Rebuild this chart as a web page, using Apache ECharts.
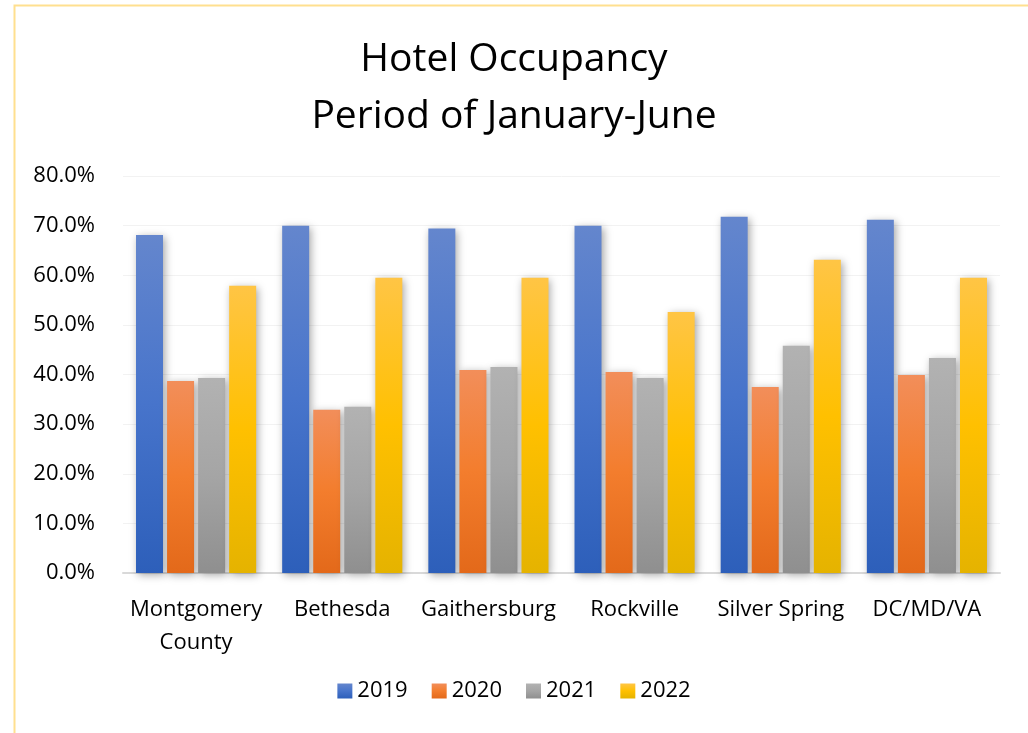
<!DOCTYPE html>
<html>
<head>
<meta charset="utf-8">
<title>Hotel Occupancy</title>
<script src="https://cdn.jsdelivr.net/npm/echarts@6/dist/echarts.min.js"></script>
<style>
  html, body { margin: 0; padding: 0; background: #fff; }
  #main { width: 1028px; height: 733px; }
</style>
</head>
<body>
<div id="main"></div>
<script>
// categories and values (percent)
var places = ['Montgomery\nCounty', 'Bethesda', 'Gaithersburg', 'Rockville', 'Silver Spring', 'DC/MD/VA'];
var years = ['2019', '2020', '2021', '2022'];
var occ2019 = [68.1, 70.0, 69.4, 70.0, 71.8, 71.2];
var occ2020 = [38.7, 32.9, 40.9, 40.5, 37.5, 39.9];
var occ2021 = [39.3, 33.5, 41.5, 39.3, 45.8, 43.3];
var occ2022 = [57.9, 59.5, 59.5, 52.6, 63.1, 59.5];

var font = "'Open Sans', 'Noto Sans', sans-serif";

function grad(top, mid, bottom) {
  return new echarts.graphic.LinearGradient(0, 0, 0, 1, [
    { offset: 0, color: top },
    { offset: 0.5, color: mid },
    { offset: 1, color: bottom }
  ]);
}

var fills = [
  grad('#6486cd', '#4774cb', '#2d5fba'),
  grad('#f28e5a', '#f37d2d', '#e3691a'),
  grad('#b2b2b2', '#a5a5a5', '#8f8f8f'),
  grad('#ffc545', '#ffc000', '#e5b300')
];

var values = [occ2019, occ2020, occ2021, occ2022];

var series = years.map(function (y, i) {
  return {
    name: y,
    type: 'bar',
    data: values[i],
    barWidth: 27,
    barGap: '15%',
    itemStyle: {
      color: fills[i],
      shadowBlur: 8,
      shadowColor: 'rgba(0,0,0,0.35)',
      shadowOffsetX: 2,
      shadowOffsetY: 2
    }
  };
});

var chart = echarts.init(document.getElementById('main'));
chart.setOption({
  animation: false,
  backgroundColor: '#fff',
  title: {
    text: 'Hotel Occupancy\nPeriod of January-June',
    left: 'center',
    top: 26,
    textStyle: {
      fontFamily: font,
      fontWeight: 'normal',
      fontSize: 39,
      lineHeight: 57,
      color: '#000'
    }
  },
  legend: {
    data: years,
    bottom: 26,
    left: 'center',
    itemWidth: 15,
    itemHeight: 15,
    itemGap: 24,
    icon: 'rect',
    textStyle: { fontFamily: font, fontSize: 22, color: '#000' }
  },
  grid: { left: 123, right: 28, top: 176, bottom: 160, containLabel: false },
  xAxis: {
    type: 'category',
    data: places,
    axisLine: { lineStyle: { color: '#d9d9d9', width: 2 } },
    axisTick: { show: false },
    axisLabel: {
      fontFamily: font,
      fontSize: 22,
      color: '#000',
      margin: 20,
      lineHeight: 33,
      interval: 0
    }
  },
  yAxis: {
    type: 'value',
    min: 0,
    max: 80,
    interval: 10,
    axisLine: { show: false },
    axisTick: { show: false },
    splitLine: { lineStyle: { color: '#f2f2f2' } },
    axisLabel: {
      fontFamily: font,
      fontSize: 22,
      color: '#000',
      margin: 28,
      formatter: function (v) { return v.toFixed(1) + '%'; }
    }
  },
  graphic: [{
    type: 'rect',
    left: 12,
    top: 3,
    shape: { width: 1100, height: 800 },
    style: { fill: 'none', stroke: '#ffe08f', lineWidth: 2 },
    silent: true
  }],
  series: series
});
</script>
</body>
</html>
